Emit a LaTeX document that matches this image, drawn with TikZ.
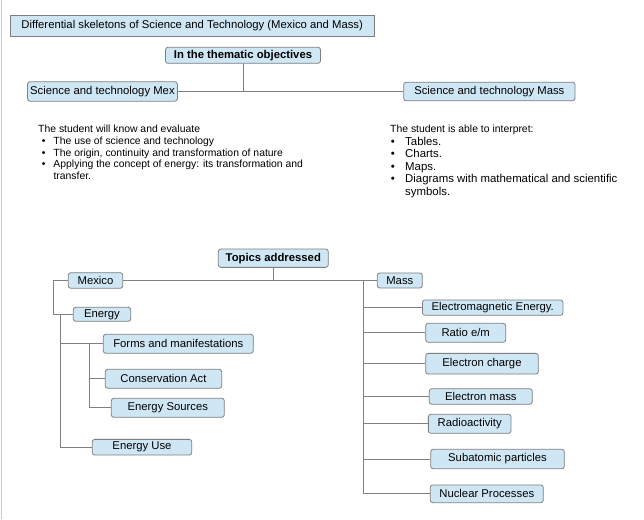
\documentclass[tikz,border=0pt]{standalone}
\usepackage{fontspec}
\setmainfont{Liberation Sans}
\usetikzlibrary{calc}
\definecolor{boxfill}{HTML}{CFE7F5}
\definecolor{boxline}{HTML}{7F7F7F}
\definecolor{wireline}{HTML}{808080}
\definecolor{frameline}{HTML}{C8C8C8}
\newcommand{\lblfont}{\fontsize{11.3}{13}\selectfont}
\newcommand{\parafont}{\fontsize{10.4}{11.8}\selectfont}
\newcommand{\listfont}{\fontsize{11.4}{12.5}\selectfont}
\begin{document}
\begin{tikzpicture}[x=1pt,y=-1pt,
  box/.style={draw=boxline, fill=boxfill, rounded corners=2.5pt, inner sep=0pt, font=\lblfont, line width=0.8pt},
  sqbox/.style={box, rounded corners=0pt},
  wire/.style={draw=wireline, line width=0.8pt},
  para/.style={inner sep=0pt, align=left, anchor=north west}]
\useasboundingbox (0,0) rectangle (644,519);
\fill[white] (0,0) rectangle (644,519);
\draw[frameline, line width=0.8pt] (1,0) -- (1,519);

% top part
\node[sqbox, minimum width=364.6pt, minimum height=21pt] (title) at (192.2,25.8) {Differential skeletons of Science and Technology (Mexico and Mass)};
\node[box, font=\lblfont\bfseries, minimum width=155pt, minimum height=16pt] (thematic) at (243,55.3) {In the thematic objectives};
\node[box, minimum width=149.9pt, minimum height=19.4pt] (mexobj) at (102.45,91.5) {Science and technology Mex};
\node[box, minimum width=171.3pt, minimum height=18.6pt] (massobj) at (489.35,91.5) {Science and technology Mass};

\draw[wire] (thematic.south) -- (thematic.south |- mexobj.east);
\draw[wire] (mexobj.east) -- (massobj.west);

% paragraphs
\node[para, font=\parafont] (leftpara) at (38,124.8) {The student will know and evaluate\\
\hspace*{3.7pt}\makebox[11.6pt][l]{•}The use of science and technology\\
\hspace*{3.7pt}\makebox[11.6pt][l]{•}The origin, continuity and transformation of nature\\
\hspace*{3.7pt}\makebox[11.6pt][l]{•}Applying the concept of energy: its transformation and\\
\hspace*{15.3pt}transfer.};
\node[para, font=\parafont] (rightintro) at (390,124.8) {The student is able to interpret:};
\node[para, font=\listfont] (rightlist) at (390.7,136.8) {\makebox[14.3pt][l]{•}Tables.\\
\makebox[14.3pt][l]{•}Charts.\\
\makebox[14.3pt][l]{•}Maps.\\
\makebox[14.3pt][l]{•}Diagrams with mathematical and scientific\\
\hspace*{14.3pt}symbols.};

% topics addressed
\node[box, font=\lblfont\bfseries, minimum width=110pt, minimum height=18.3pt] (topics) at (273.3,258.2) {Topics addressed};
\node[box, minimum width=54.4pt, minimum height=15.6pt] (mexico) at (95.5,280.5) {Mexico};
\node[box, minimum width=45pt, minimum height=15pt] (mass) at (399.8,280.5) {Mass};

\node[box, minimum width=57.4pt, minimum height=14pt] (energy) at (102,314.3) {Energy};
\node[box, minimum width=150pt, minimum height=19pt] (forms) at (178.3,343.8) {Forms and manifestations};
\node[box, minimum width=116.4pt, minimum height=19pt] (conserv) at (163.5,378.8) {Conservation Act};
\node[box, minimum width=113pt, minimum height=19pt] (sources) at (167.8,407.8) {Energy Sources};
\node[box, minimum width=99.4pt, minimum height=15.7pt] (enuse) at (142,447.2) {Energy Use};

\node[box, minimum width=140.4pt, minimum height=15.3pt] (emenergy) at (492.7,307.6) {Electromagnetic Energy.};
\node[box, minimum width=80pt, minimum height=19pt] (ratio) at (465.7,332.8) {Ratio e/m};
\node[box, minimum width=112.6pt, minimum height=20.7pt] (echarge) at (482,363.7) {Electron charge};
\node[box, minimum width=103pt, minimum height=15.6pt] (emass) at (480.8,396.5) {Electron mass};
\node[box, minimum width=82.7pt, minimum height=19pt] (radio) at (469.7,423.8) {Radioactivity};
\node[box, minimum width=133.6pt, minimum height=19.4pt] (subatomic) at (497.5,459) {Subatomic particles};
\node[box, minimum width=113pt, minimum height=17.7pt] (nuclear) at (486.8,493.8) {Nuclear Processes};

\draw[wire] (topics.south) -- (topics.south |- mexico.east);
\draw[wire] (mexico.east) -- (mass.west);
\draw[wire] (mexico.west) -- ++(-14.3,0) |- (energy.west);
\coordinate (ejunc) at ($(energy.west)+(-12.6,0)$);
\draw[wire] (ejunc) |- (forms.west);
\draw[wire] (ejunc) |- (enuse.west);
\coordinate (fjunc) at ($(forms.west)+(-14,0)$);
\draw[wire] (fjunc) |- (conserv.west);
\draw[wire] (fjunc) |- (sources.west);
\coordinate (mjunc) at ($(mass.west)+(-13.3,0)$);
\foreach \c in {emenergy,ratio,echarge,emass,radio,subatomic,nuclear}{
  \draw[wire] (mjunc) |- (\c.west);
}
\end{tikzpicture}
\end{document}
